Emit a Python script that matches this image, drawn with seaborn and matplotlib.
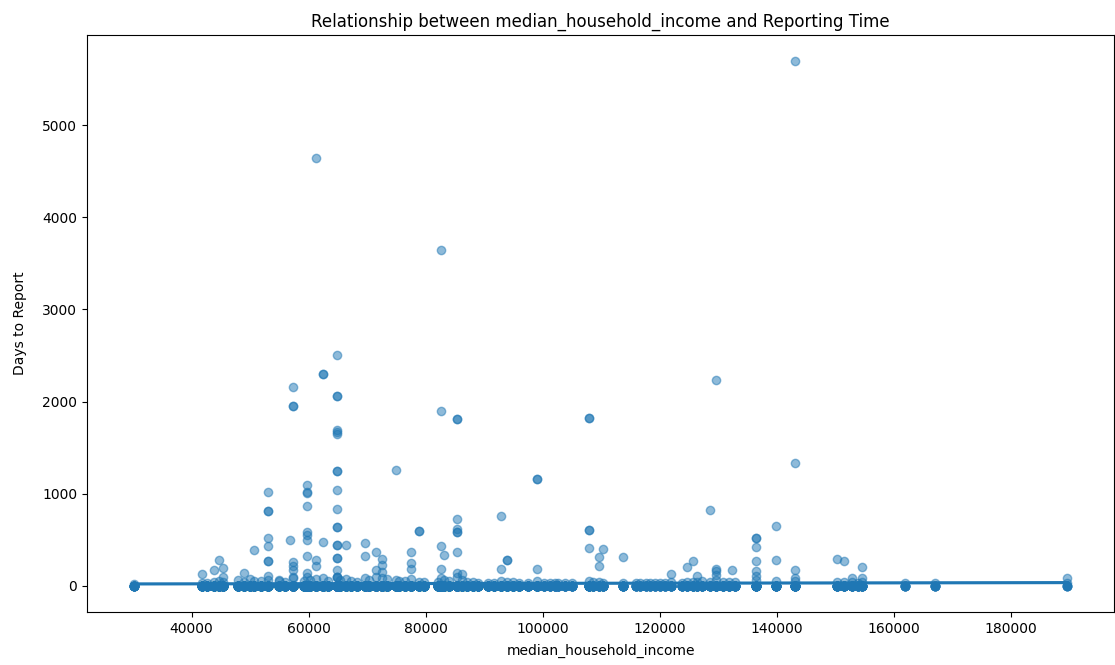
import numpy as np
import pandas as pd
import matplotlib
matplotlib.use("Agg")
import matplotlib.pyplot as plt
import seaborn as sns

# Distinct median household income values (one column of reports each)
columns = [30100, 41700, 42600, 43900, 44600, 45300, 48000, 48900, 49900, 50700,
           51800, 53100, 55000, 56000, 57400, 59300, 59800, 60300, 61200, 62500,
           63400, 64800, 65400, 66400, 67300, 68300, 69700, 70400, 71500, 72500,
           73400, 74900, 75500, 76500, 77500, 78800, 79700, 82100, 82700, 83100,
           84000, 85400, 86200, 87100, 88100, 88900, 90600, 91700, 92900, 93900,
           94900, 95900, 97500, 99000, 100200, 101200, 102200, 102700, 103800, 105000,
           108000, 108700, 109700, 110400, 113800, 115900, 116700, 117600, 118400, 119300,
           120100, 121000, 122000, 123900, 124700, 125700, 126400, 127300, 128700, 129700,
           130900, 131900, 132900, 136500, 139900, 143100, 150300, 151500, 152900, 153900,
           154600, 161900, 167000, 189700]

# Number of reports filed on day 0 in each income column
zero_counts = [15, 35, 30, 45, 50, 45, 45, 50, 50, 45,
               45, 65, 50, 50, 90, 50, 100, 60, 70, 90,
               50, 130, 60, 60, 50, 50, 70, 65, 90, 100,
               70, 70, 60, 50, 65, 50, 45, 45, 90, 60,
               50, 100, 65, 50, 45, 35, 35, 35, 50, 50,
               45, 45, 35, 60, 15, 15, 15, 15, 15, 15,
               25, 18, 18, 18, 18, 12, 12, 12, 12, 12,
               12, 12, 15, 15, 18, 18, 18, 18, 18, 25,
               18, 18, 18, 25, 20, 25, 18, 18, 18, 15,
               18, 9, 9, 6]

# One short-delay report in each income column
short_days = [20, 30, 25, 45, 50, 40, 60, 45, 70, 50,
              55, 60, 50, 45, 80, 55, 90, 60, 70, 80,
              50, 90, 60, 70, 50, 45, 80, 60, 90, 85,
              70, 60, 55, 50, 70, 45, 40, 40, 80, 60,
              50, 90, 60, 45, 40, 35, 30, 30, 50, 45,
              40, 35, 30, 50, 30, 30, 25, 30, 30, 25,
              50, 40, 40, 35, 30, 25, 25, 30, 25, 30,
              25, 30, 40, 35, 45, 40, 45, 50, 40, 60,
              40, 45, 40, 60, 50, 55, 40, 45, 40, 35,
              40, 25, 25, 30]

# Reports with a visible delay
late_income = [41700, 43900, 44600, 45300, 45300, 48900, 50700,
               53100, 53100, 53100, 53100, 53100, 53100, 53100, 53100, 55000,
               56800, 57400, 57400, 57400, 57400, 57400, 57400, 57400,
               59800, 59800, 59800, 59800, 59800, 59800, 59800, 59800, 59800,
               61200, 61200, 61200, 62500, 62500, 62500,
               64800, 64800, 64800, 64800, 64800, 64800, 64800, 64800, 64800,
               64800, 64800, 64800, 64800, 64800, 64800, 64800, 64800, 64800, 64800,
               66400, 69700, 69700, 71500, 71500, 72500, 72500, 72500,
               74900, 77500, 77500, 77500, 78800, 78800,
               82700, 82700, 82700, 82700, 83100,
               85400, 85400, 85400, 85400, 85400, 85400, 85400, 85400, 86200,
               92900, 92900, 93900, 93900, 99000, 99000, 99000,
               108000, 108000, 108000, 108000, 108000, 109700, 109700, 110400, 113800,
               122000, 124700, 125700, 126400, 128700,
               129700, 129700, 129700, 129700, 132400,
               136500, 136500, 136500, 136500, 136500, 136500, 139900, 139900,
               143100, 143100, 143100, 143100,
               150300, 151500, 152900, 154600, 154600, 189700]
late_days = [130, 174, 279, 192, 100, 137, 383,
             1023, 814, 814, 524, 434, 264, 264, 101, 60,
             499, 2162, 1950, 1950, 260, 210, 174, 100,
             1096, 1023, 1006, 871, 589, 553, 499, 318, 144,
             4640, 275, 210, 2297, 2297, 474,
             2506, 2065, 2065, 1693, 1670, 1650, 1251, 1251, 1038, 828,
             633, 633, 445, 445, 300, 300, 174, 100, 100,
             445, 463, 325, 372, 174, 290, 228, 150,
             1259, 366, 246, 181, 593, 593,
             3646, 1902, 427, 181, 333,
             1805, 1805, 730, 615, 589, 589, 372, 140, 130,
             756, 184, 275, 275, 1161, 1161, 177,
             1826, 1826, 608, 608, 409, 307, 220, 398, 311,
             130, 199, 264, 108, 825,
             2235, 181, 155, 120, 166,
             521, 521, 420, 264, 155, 101, 654, 275,
             5694, 1335, 166, 80,
             296, 264, 83, 199, 83, 83]

income = (list(np.repeat(columns, zero_counts)) + list(columns) + late_income)
days = [0] * int(sum(zero_counts)) + short_days + late_days
df = pd.DataFrame({"median_household_income": income, "days_to_report": days})

fig = plt.figure(figsize=(11.15, 6.65), dpi=100)
ax = fig.add_axes([87 / 1115, 53 / 665, 1027 / 1115, 577 / 665])
sns.regplot(data=df, x="median_household_income", y="days_to_report",
            scatter_kws={"alpha": 0.5}, ci=None, ax=ax)
ax.set_title("Relationship between median_household_income and Reporting Time")
ax.set_xlabel("median_household_income", labelpad=6)
ax.set_ylabel("Days to Report", labelpad=11)
fig.savefig("out.png", dpi=100)
